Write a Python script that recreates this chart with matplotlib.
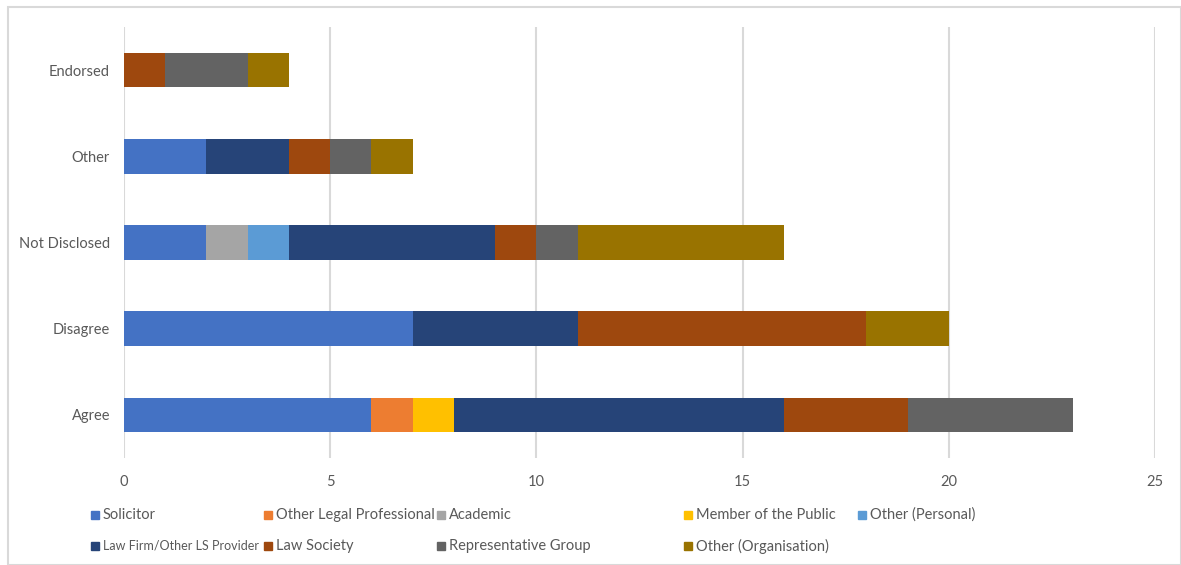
import matplotlib.pyplot as plt
from matplotlib.patches import Rectangle
import numpy as np

plt.rcParams['font.family'] = ['Lato', 'DejaVu Sans']

categories = ['Agree', 'Disagree', 'Not Disclosed', 'Other', 'Endorsed']
groups = ['Solicitor', 'Other Legal Professional', 'Academic', 'Member of the Public',
          'Other (Personal)', 'Law Firm/Other LS Provider', 'Law Society',
          'Representative Group', 'Other (Organisation)']
colors = ['#4472C4', '#ED7D31', '#A5A5A5', '#FFC000', '#5B9BD5',
          '#264478', '#9E480E', '#636363', '#997300']

# one list per group, in the order of categories
solicitor = [6, 7, 2, 2, 0]
other_legal = [1, 0, 0, 0, 0]
academic = [0, 0, 1, 0, 0]
public = [1, 0, 0, 0, 0]
other_personal = [0, 0, 1, 0, 0]
law_firm = [8, 4, 5, 2, 0]
law_society = [3, 7, 1, 1, 1]
rep_group = [4, 0, 1, 1, 2]
other_org = [0, 2, 5, 1, 1]
series = [solicitor, other_legal, academic, public, other_personal,
          law_firm, law_society, rep_group, other_org]

xticks = [0, 5, 10, 15, 20, 25]
txt = '#595959'

fig = plt.figure(figsize=(11.81, 5.65), dpi=100)
ax = fig.add_axes([124/1181, 1-458/565, 1031/1181, 431/565])

y = np.arange(len(categories))
left = np.zeros(len(categories))
for vals, c, name in zip(series, colors, groups):
    ax.barh(y, vals, left=left, height=0.4, color=c, label=name, zorder=3)
    left += np.array(vals)

ax.set_xlim(0, 25)
ax.set_ylim(-0.5, 4.5)
ax.set_xticks(xticks)
ax.set_yticks(y)
ax.set_yticklabels(categories)
ax.xaxis.grid(True, color='#D9D9D9', lw=1.5, zorder=0)
for s in ax.spines.values():
    s.set_visible(False)
ax.tick_params(length=0, labelsize=10.5, colors=txt)
ax.tick_params(axis='x', pad=12)
ax.tick_params(axis='y', pad=10)

# legend, placed like the Excel one (left edge of each marker)
pos = [(91, 515), (264, 515), (437, 515), (684, 515), (858, 515),
       (91, 546), (264, 546), (437, 546), (684, 546)]
for (px, py), c, name in zip(pos, colors, groups):
    fig.patches.append(Rectangle((px/1181, 1 - py/565 - 4/565), 8/1181, 8/565,
                                 transform=fig.transFigure, color=c))
    fs = 9.0 if name.startswith('Law Firm') else 10.5  # Calibri is narrower, so shrink to fit
    fig.text((px + 12)/1181, 1 - py/565, name, fontsize=fs, color=txt, va='center', ha='left')

fig.patches.append(Rectangle((7.5/1181, 0), 1 - 7.5/1181, 1 - 6.5/565, transform=fig.transFigure,
                             fill=False, edgecolor='#D9D9D9', lw=1.5))

fig.savefig('out.png', dpi=100)
